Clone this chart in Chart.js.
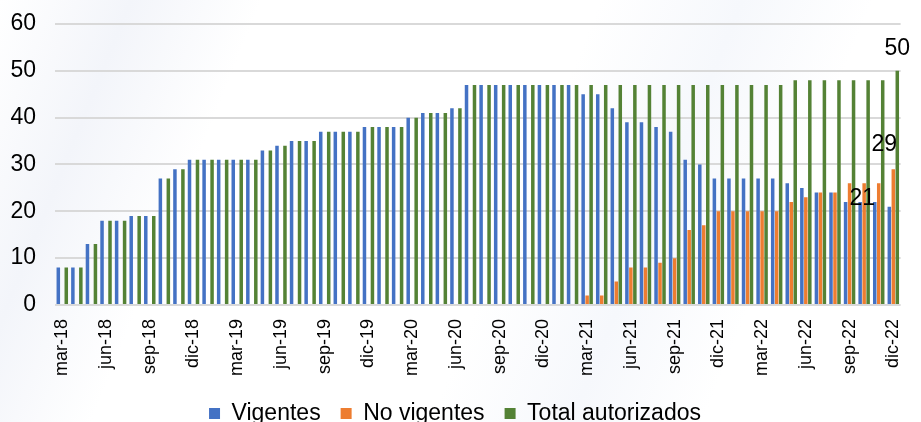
<!DOCTYPE html>
<html>
<head>
<meta charset="utf-8">
<script src="https://cdn.jsdelivr.net/npm/chart.js@4/dist/chart.umd.min.js"></script>
<style>
  html, body { margin: 0; padding: 0; background: #fff; }
  #wrap {
    width: 921px; height: 422px; position: relative;
    background: linear-gradient(112deg, #fff 0%, #f3f5fa 12%, #fff 24%, #fff 55%, #f6f8fc 68%, #fff 80%);
  }
</style>
</head>
<body>
<div id="wrap"><canvas id="myChart" width="921" height="422"></canvas></div>
<script>
// Months mar-18 .. dic-22
const months = [
  'mar-18','abr-18','may-18','jun-18','jul-18','ago-18','sep-18','oct-18','nov-18','dic-18',
  'ene-19','feb-19','mar-19','abr-19','may-19','jun-19','jul-19','ago-19','sep-19','oct-19','nov-19','dic-19',
  'ene-20','feb-20','mar-20','abr-20','may-20','jun-20','jul-20','ago-20','sep-20','oct-20','nov-20','dic-20',
  'ene-21','feb-21','mar-21','abr-21','may-21','jun-21','jul-21','ago-21','sep-21','oct-21','nov-21','dic-21',
  'ene-22','feb-22','mar-22','abr-22','may-22','jun-22','jul-22','ago-22','sep-22','oct-22','nov-22','dic-22'
];

const vigentes = [
  8, 8, 13, 18, 18, 19, 19, 27, 29, 31,
  31, 31, 31, 31, 33, 34, 35, 35, 37, 37, 37, 38,
  38, 38, 40, 41, 41, 42, 47, 47, 47, 47, 47, 47,
  47, 47, 45, 45, 42, 39, 39, 38, 37, 31, 30, 27,
  27, 27, 27, 27, 26, 25, 24, 24, 22, 22, 22, 21
];

const noVigentes = [
  0, 0, 0, 0, 0, 0, 0, 0, 0, 0,
  0, 0, 0, 0, 0, 0, 0, 0, 0, 0, 0, 0,
  0, 0, 0, 0, 0, 0, 0, 0, 0, 0, 0, 0,
  0, 0, 2, 2, 5, 8, 8, 9, 10, 16, 17, 20,
  20, 20, 20, 20, 22, 23, 24, 24, 26, 26, 26, 29
];

const totalAutorizados = [
  8, 8, 13, 18, 18, 19, 19, 27, 29, 31,
  31, 31, 31, 31, 33, 34, 35, 35, 37, 37, 37, 38,
  38, 38, 40, 41, 41, 42, 47, 47, 47, 47, 47, 47,
  47, 47, 47, 47, 47, 47, 47, 47, 47, 47, 47, 47,
  47, 47, 47, 47, 48, 48, 48, 48, 48, 48, 48, 50
];

const yTicks = [0, 10, 20, 30, 40, 50, 60];

const FONT = '"Liberation Sans", Arial, Helvetica, sans-serif';

// labels on the last month only, nudged like the original
const lastLabels = {
    id: 'lastLabels',
    afterDatasetsDraw(chart) {
        const ctx = chart.ctx;
        const last = months.length - 1;
        const offsets = [[-27, 4], [-9, -13], [0, -11]]; // blue, orange, green
        ctx.save();
        ctx.font = '23px ' + FONT;
        ctx.fillStyle = '#000';
        ctx.textAlign = 'center';
        ctx.textBaseline = 'bottom';
        chart.data.datasets.forEach((ds, i) => {
            const bar = chart.getDatasetMeta(i).data[last];
            ctx.fillText(String(ds.data[last]), bar.x + offsets[i][0], bar.y + offsets[i][1]);
        });
        ctx.restore();
    }
};

const config = {
    type: 'bar',
    data: {
        labels: months,
        datasets: [
            { label: 'Vigentes', data: vigentes, backgroundColor: '#4472C4' },
            { label: 'No vigentes', data: noVigentes, backgroundColor: '#ED7D31' },
            { label: 'Total autorizados', data: totalAutorizados, backgroundColor: '#548235' }
        ]
    },
    options: {
        responsive: false,
        animation: false,
        datasets: {
            bar: { categoryPercentage: 0.82, barPercentage: 0.88 }
        },
        layout: {
            padding: { top: 24, left: 0, right: 11, bottom: -13 }
        },
        plugins: {
            legend: {
                position: 'bottom',
                labels: {
                    font: { family: FONT, size: 23 },
                    color: '#000',
                    boxWidth: 11,
                    boxHeight: 11,
                    padding: 20
                }
            },
            tooltip: { enabled: false }
        },
        scales: {
            x: {
                grid: { display: false },
                border: { display: false },
                ticks: {
                    autoSkip: false,
                    minRotation: 90,
                    maxRotation: 90,
                    padding: 6,
                    color: '#000',
                    font: { family: FONT, size: 18 },
                    callback: function (val, idx) {
                        return idx % 3 === 0 ? months[idx] : '';
                    }
                }
            },
            y: {
                min: 0,
                max: 60,
                afterBuildTicks: axis => { axis.ticks = yTicks.map(v => ({ value: v })); },
                afterFit: axis => {
                    axis.width = 55;
                    axis.paddingTop = 0;
                    axis.paddingBottom = 0;
                },
                grid: { color: '#d9d9d9', lineWidth: 2, drawTicks: false },
                border: { display: false },
                ticks: {
                    color: '#000',
                    padding: 19,
                    font: { family: FONT, size: 23 }
                }
            }
        }
    },
    plugins: [lastLabels]
};

const ctx = document.querySelector('#myChart');
let myChart = new Chart(ctx, config);
</script>
</body>
</html>
